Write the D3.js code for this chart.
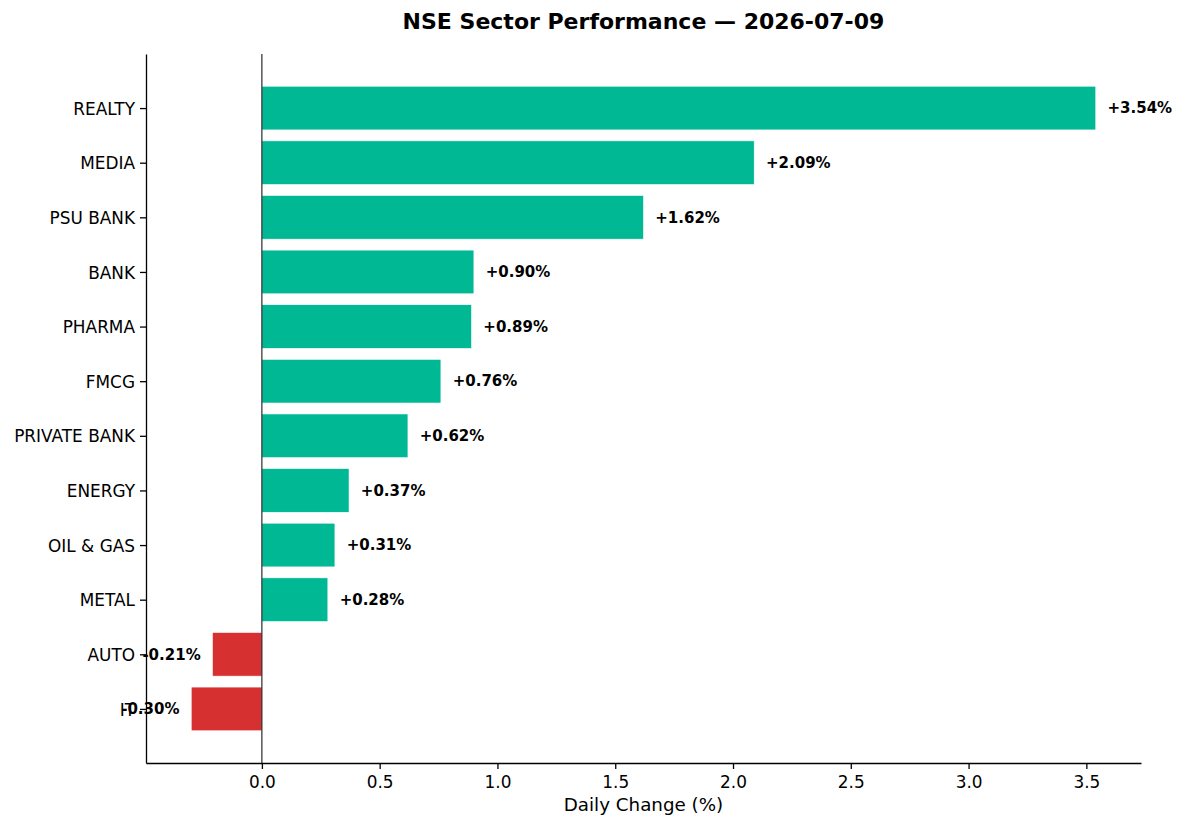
<!DOCTYPE html>
<meta charset="utf-8">
<style>
body { margin: 0; background: #fff; }
svg { font-family: "DejaVu Sans", sans-serif; }
</style>
<svg width="1184" height="828"></svg>
<script src="https://d3js.org/d3.v7.min.js"></script>
<script>

// sectors top to bottom, and their daily change (%)
var sectors = ["REALTY", "MEDIA", "PSU BANK", "BANK", "PHARMA", "FMCG",
               "PRIVATE BANK", "ENERGY", "OIL & GAS", "METAL", "AUTO", "IT"];
var changes = [3.54, 2.09, 1.62, 0.90, 0.89, 0.76, 0.62, 0.37, 0.31, 0.28, -0.21, -0.30];
var xTicks = [0.0, 0.5, 1.0, 1.5, 2.0, 2.5, 3.0, 3.5];

var data = sectors.map(function(s, i) { return {sector: s, value: changes[i]}; });

var svg = d3.select("svg"),
    margin = {top: 54, right: 43, bottom: 65, left: 146},
    width = +svg.attr("width") - margin.left - margin.right,
    height = +svg.attr("height") - margin.top - margin.bottom;

// matplotlib style 5% padding round the data
var lo = d3.min(changes), hi = d3.max(changes), pad = (hi - lo) * 0.05;
var x = d3.scaleLinear().domain([lo - pad, hi + pad]).range([0, width]);

// bar i sits at i, height 0.8; y extent padded the same way
var n = sectors.length, ypad = (n - 1 + 0.8) * 0.05;
var yl = d3.scaleLinear().domain([-0.4 - ypad, n - 1 + 0.4 + ypad]).range([0, height]);

var g = svg.append("g")
    .attr("transform", "translate(" + margin.left + "," + margin.top + ")");

g.selectAll(".bar")
  .data(data)
  .enter().append("rect")
    .attr("class", "bar")
    .attr("x", function(d) { return x(Math.min(0, d.value)); })
    .attr("y", function(d, i) { return yl(i - 0.4); })
    .attr("width", function(d) { return Math.abs(x(d.value) - x(0)); })
    .attr("height", yl(0.8) - yl(0))
    .attr("fill", function(d) { return d.value >= 0 ? "#00b894" : "#d63031"; })
    .attr("stroke", "#fff")
    .attr("stroke-width", 0.6);

// zero line
g.append("line")
    .attr("x1", x(0)).attr("x2", x(0))
    .attr("y1", 0).attr("y2", height)
    .attr("stroke", "#000").attr("stroke-width", 1);

// value labels
g.selectAll(".val")
  .data(data)
  .enter().append("text")
    .attr("class", "val")
    .attr("x", function(d) { return x(d.value + (d.value >= 0 ? 0.05 : -0.05)); })
    .attr("y", function(d, i) { return yl(i); })
    .attr("dy", "0.35em")
    .attr("text-anchor", function(d) { return d.value >= 0 ? "start" : "end"; })
    .attr("font-size", "15px")
    .attr("font-weight", "bold")
    .text(function(d) { return (d.value >= 0 ? "+" : "") + d.value.toFixed(2) + "%"; });

// axes
var xAxis = g.append("g")
    .attr("class", "axis axis--x")
    .attr("transform", "translate(0," + height + ")")
    .call(d3.axisBottom(x).tickValues(xTicks).tickFormat(d3.format(".1f"))
      .tickSize(6).tickSizeOuter(0).tickPadding(5));

var yAxis = g.append("g")
    .attr("class", "axis axis--y")
    .call(d3.axisLeft(yl).tickValues(d3.range(n))
      .tickFormat(function(i) { return sectors[i]; })
      .tickSize(6).tickSizeOuter(0).tickPadding(5));

[xAxis, yAxis].forEach(function(a) {
  a.attr("font-family", "DejaVu Sans").attr("font-size", 16.9);
  a.selectAll("path, line").attr("stroke", "#000").attr("stroke-width", 1.3);
  a.selectAll("text").attr("fill", "#000");
});
yAxis.selectAll("text").attr("dy", "0.36em");
xAxis.selectAll("text").attr("dy", "0.8em");

// title and axis label
svg.append("text")
    .attr("x", margin.left + width / 2)
    .attr("y", 29)
    .attr("text-anchor", "middle")
    .attr("font-size", "22px")
    .attr("font-weight", "bold")
    .text("NSE Sector Performance \u2014 2026-07-09");

svg.append("text")
    .attr("x", margin.left + width / 2)
    .attr("y", 811)
    .attr("text-anchor", "middle")
    .attr("font-size", "18.3px")
    .text("Daily Change (%)");

</script>
